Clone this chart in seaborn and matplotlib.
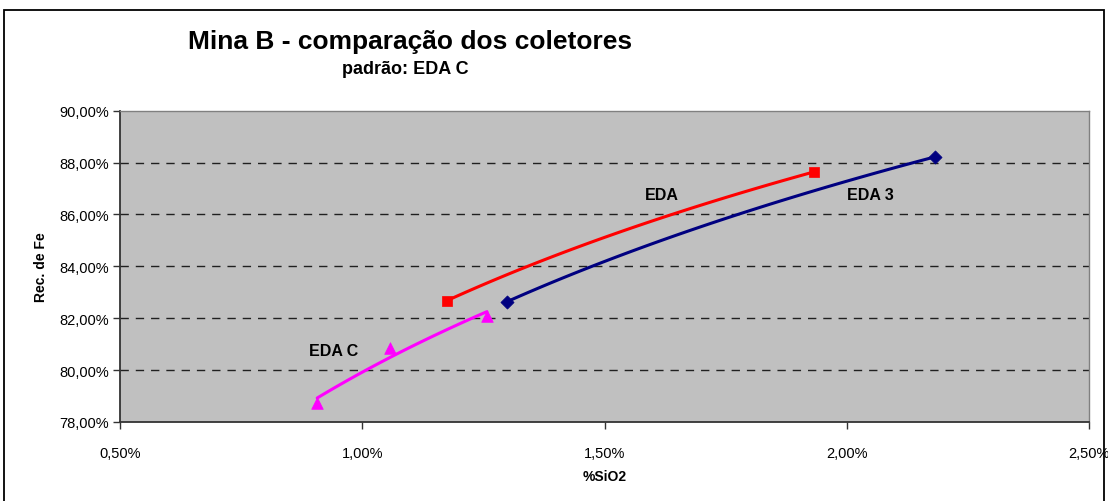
import numpy as np
import pandas as pd
import matplotlib
matplotlib.use('Agg')
import matplotlib.pyplot as plt
import seaborn as sns
from matplotlib.ticker import FuncFormatter, MultipleLocator
from matplotlib.patches import Rectangle

# data (%SiO2, Rec. de Fe in %)
eda_x = [1.175, 1.932]
eda_y = [82.68, 87.64]
eda3_x = [1.299, 2.182]
eda3_y = [82.64, 88.22]
edac_x = [0.907, 1.057, 1.257]
edac_y = [78.72, 80.87, 82.07]

series_names = ['EDA', 'EDA 3', 'EDA C']
series_colors = ['#FF0000', '#000080', '#FF00FF']
series_markers = ['s', 'D', '^']

sns.set_theme(style='white')
plt.rcParams['font.family'] = ['Liberation Sans', 'DejaVu Sans']
plt.rcParams['text.color'] = 'black'
plt.rcParams['axes.labelcolor'] = 'black'

fig = plt.figure(figsize=(11.08, 5.02), dpi=100)
ax = fig.add_axes([0.1083, 0.1574, 0.8746, 0.6201])
ax.set_facecolor('#C0C0C0')

datasets = [(eda_x, eda_y), (eda3_x, eda3_y), (edac_x, edac_y)]
for (xs, ys), name, col, mk in zip(datasets, series_names, series_colors, series_markers):
    df = pd.DataFrame({'x': xs, 'y': ys})
    # logarithmic trendline like the spreadsheet one
    a, b = np.polyfit(np.log(df['x']), df['y'], 1)
    xt = np.linspace(min(xs), max(xs), 60)
    trend = pd.DataFrame({'x': xt, 'y': a * np.log(xt) + b})
    sns.lineplot(data=trend, x='x', y='y', ax=ax, color=col, lw=2.2, zorder=3)
    msize = 70 if mk == '^' else 45
    sns.scatterplot(data=df, x='x', y='y', ax=ax, color=col, marker=mk, s=msize,
                    edgecolor=col, linewidth=0.5, zorder=4)

ax.set_xlim(0.5, 2.5)
ax.set_ylim(78, 90)
ax.xaxis.set_major_locator(MultipleLocator(0.5))
ax.yaxis.set_major_locator(MultipleLocator(2))
pct = FuncFormatter(lambda v, p: f'{v:.2f}%'.replace('.', ','))
ax.xaxis.set_major_formatter(pct)
ax.yaxis.set_major_formatter(pct)

for yv in [80, 82, 84, 86, 88]:
    ax.axhline(yv, color='#202020', lw=1, ls=(0, (6, 5)), zorder=1)

ax.tick_params(axis='both', which='major', direction='out', length=5, width=1,
               color='#333333', labelsize=10.5, labelcolor='black', bottom=True, left=True)
ax.tick_params(axis='x', pad=12)
ax.tick_params(axis='y', pad=3)

for side in ['top', 'right']:
    ax.spines[side].set_color('#808080')
    ax.spines[side].set_linewidth(1)
for side in ['left', 'bottom']:
    ax.spines[side].set_color('#333333')
    ax.spines[side].set_linewidth(1.3)

ax.set_xlabel('%SiO2', fontsize=10, fontweight='bold', labelpad=7)
ax.set_ylabel('Rec. de Fe', fontsize=10, fontweight='bold', labelpad=8)

# series labels
ax.text(1.618, 86.76, 'EDA', fontsize=11.5, fontweight='bold', ha='center', va='center')
ax.text(2.048, 86.76, 'EDA 3', fontsize=11.5, fontweight='bold', ha='center', va='center')
ax.text(0.94, 80.76, 'EDA C', fontsize=11.5, fontweight='bold', ha='center', va='center')

fig.text(410 / 1108, 1 - 42 / 502, 'Mina B - comparação dos coletores', fontsize=19,
         fontweight='bold', ha='center', va='center')
fig.text(405 / 1108, 1 - 70 / 502, 'padrão: EDA C', fontsize=13,
         fontweight='bold', ha='center', va='center')

fig.patches.append(Rectangle((4 / 1108, -0.01), 1100 / 1108, 1 - 11 / 502 + 0.01,
                             transform=fig.transFigure, fill=False,
                             edgecolor='black', lw=1.3))

fig.savefig('out.png', dpi=100)
